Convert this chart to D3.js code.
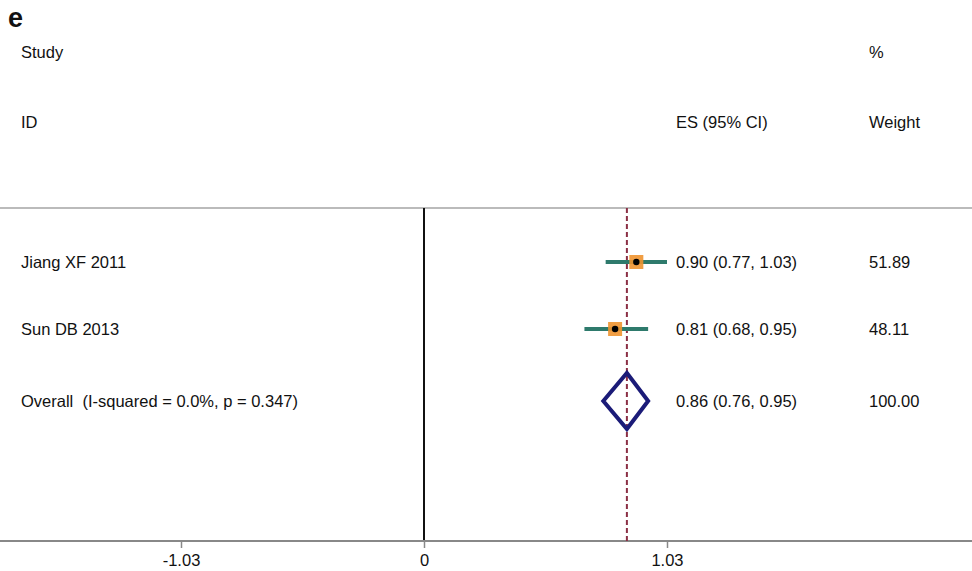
<!DOCTYPE html>
<html>
<head>
<meta charset="utf-8">
<script src="https://cdn.jsdelivr.net/npm/d3@7"></script>
<style>
    body { margin: 0; background: #fff; }
    text { font-family: "Liberation Sans", Arial, sans-serif; fill: #111; white-space: pre; }
</style>
</head>
<body>
<div id="chart"></div>
<script>
// study rows
var studies = ["Jiang XF 2011", "Sun DB 2013"];
var es = [0.90, 0.81];
var lower = [0.77, 0.68];
var upper = [1.03, 0.95];
var weights = ["51.89", "48.11"];
var esLabels = ["0.90 (0.77, 1.03)", "0.81 (0.68, 0.95)"];

// pooled estimate
var overallLabel = "Overall  (I-squared = 0.0%, p = 0.347)";
var overall = {es: 0.86, lo: 0.76, hi: 0.95, label: "0.86 (0.76, 0.95)", weight: "100.00"};

var tickValues = [-1.03, 0, 1.03];
var tickLabels = ["-1.03", "0", "1.03"];

var width = 972, height = 571;
var plotTop = 208, plotBottom = 541;
var fs = "16.5px";

var svg = d3.select("#chart")
        .append("svg")
        .attr("width", width)
        .attr("height", height);

var x = d3.scaleLinear().domain([-1.03, 1.03]).range([181, 667]);
// rows are not evenly spaced in the original
var rowY = {};
rowY[studies[0]] = 262;
rowY[studies[1]] = 329;
rowY[overallLabel] = 401;

// panel letter and headers
svg.append("text").attr("x", 8).attr("y", 27)
        .style("font-size", "27px").style("font-weight", "bold").text("e");
svg.append("text").attr("x", 21).attr("y", 58).style("font-size", fs).text("Study");
svg.append("text").attr("x", 21).attr("y", 128).style("font-size", fs).text("ID");
svg.append("text").attr("x", 676).attr("y", 128).style("font-size", fs).text("ES (95% CI)");
svg.append("text").attr("x", 869).attr("y", 58).style("font-size", fs).text("%");
svg.append("text").attr("x", 869).attr("y", 128).style("font-size", fs).text("Weight");

// top rule
svg.append("line")
        .attr("x1", 0).attr("x2", width)
        .attr("y1", plotTop).attr("y2", plotTop)
        .attr("stroke", "#bbb").attr("stroke-width", 2);

// null line
svg.append("line")
        .attr("x1", x(0)).attr("x2", x(0))
        .attr("y1", plotTop).attr("y2", plotBottom)
        .attr("stroke", "#111").attr("stroke-width", 2);

// bottom axis
var axis = svg.append("g")
        .attr("class", "axis")
        .attr("transform", "translate(0," + plotBottom + ")")
        .call(d3.axisBottom(x).tickValues(tickValues)
                .tickFormat(function (d, i) { return tickLabels[i]; })
                .tickSize(7).tickSizeOuter(0));
axis.select(".domain").remove();
axis.insert("line", ":first-child")
        .attr("x1", 0).attr("x2", width)
        .attr("stroke", "#888").attr("stroke-width", 2);
axis.selectAll(".tick line").attr("stroke", "#888").attr("stroke-width", 1.5);
axis.selectAll(".tick text")
        .attr("y", 13)
        .style("font-size", fs)
        .style("font-family", "Liberation Sans, Arial, sans-serif")
        .attr("fill", "#111");

// overall effect dashed line
svg.append("line")
        .attr("x1", x(overall.es)).attr("x2", x(overall.es))
        .attr("y1", plotTop).attr("y2", plotBottom)
        .attr("stroke", "#8b2f45").attr("stroke-width", 2)
        .attr("stroke-dasharray", "5,3");

// study rows
var rows = studies.map(function (s, i) {
    return {name: s, es: es[i], lo: lower[i], hi: upper[i], label: esLabels[i], weight: weights[i]};
});

svg.selectAll(".ci")
        .data(rows)
        .enter().append("line")
        .attr("class", "ci")
        .attr("x1", function (d) { return x(d.lo); })
        .attr("x2", function (d) { return x(d.hi); })
        .attr("y1", function (d) { return rowY[d.name]; })
        .attr("y2", function (d) { return rowY[d.name]; })
        .attr("stroke", "#2e7a6c").attr("stroke-width", 4);

svg.selectAll(".box")
        .data(rows)
        .enter().append("rect")
        .attr("class", "box")
        .attr("x", function (d) { return x(d.es) - 7; })
        .attr("y", function (d) { return rowY[d.name] - 7; })
        .attr("width", 14).attr("height", 14)
        .attr("fill", "#f0932f").attr("opacity", 0.9);

svg.selectAll(".dot")
        .data(rows)
        .enter().append("circle")
        .attr("class", "dot")
        .attr("cx", function (d) { return x(d.es); })
        .attr("cy", function (d) { return rowY[d.name]; })
        .attr("r", 3.2)
        .attr("fill", "#000");

var allRows = rows.concat([{name: overallLabel, label: overall.label, weight: overall.weight}]);

svg.selectAll(".name")
        .data(allRows)
        .enter().append("text")
        .attr("class", "name")
        .attr("x", 21)
        .attr("y", function (d) { return rowY[d.name] + 6; })
        .style("font-size", fs)
        .text(function (d) { return d.name; });

svg.selectAll(".eslab")
        .data(allRows)
        .enter().append("text")
        .attr("class", "eslab")
        .attr("x", 676)
        .attr("y", function (d) { return rowY[d.name] + 6; })
        .style("font-size", fs)
        .text(function (d) { return d.label; });

svg.selectAll(".wlab")
        .data(allRows)
        .enter().append("text")
        .attr("class", "wlab")
        .attr("x", 869)
        .attr("y", function (d) { return rowY[d.name] + 6; })
        .style("font-size", fs)
        .text(function (d) { return d.weight; });

// pooled diamond
var oy = rowY[overallLabel];
svg.append("path")
        .attr("d", "M" + x(overall.lo) + "," + oy +
                "L" + x(overall.es) + "," + (oy - 28) +
                "L" + x(overall.hi) + "," + oy +
                "L" + x(overall.es) + "," + (oy + 28) + "Z")
        .attr("fill", "none")
        .attr("stroke", "#1b1b78")
        .attr("stroke-width", 4)
        .attr("stroke-linejoin", "miter");
</script>
</body>
</html>
